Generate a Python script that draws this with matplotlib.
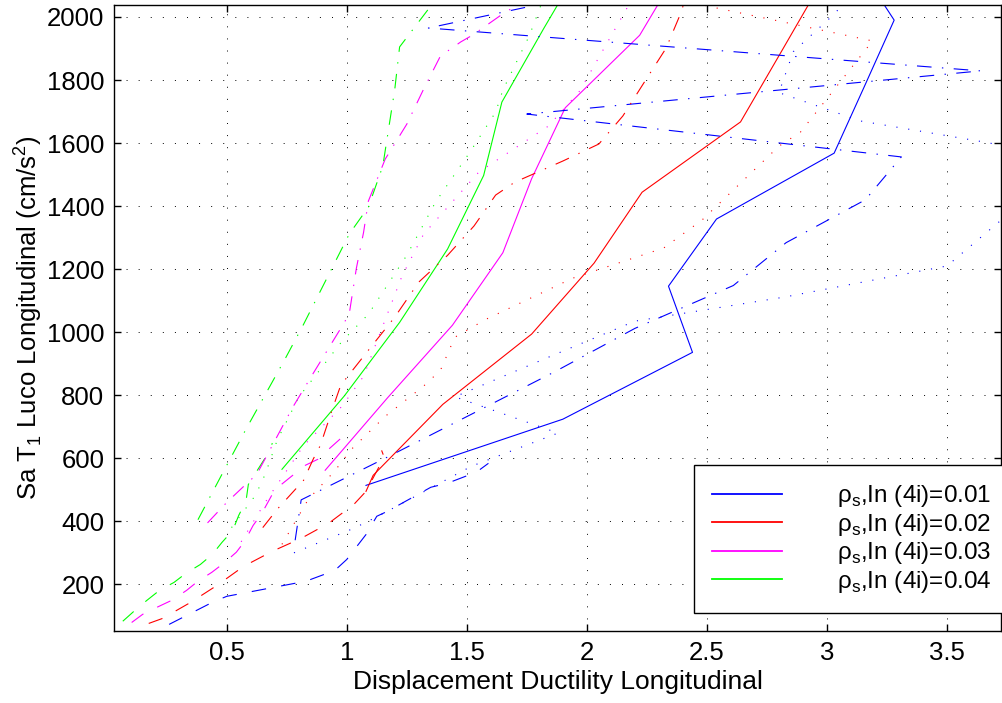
import numpy as np
import matplotlib
matplotlib.use("Agg")
import matplotlib.pyplot as plt

plt.rcParams['font.family'] = ['Liberation Sans', 'DejaVu Sans']
plt.rcParams['mathtext.fontset'] = 'custom'
plt.rcParams['mathtext.rm'] = 'Liberation Sans'
plt.rcParams['lines.scale_dashes'] = False

# ---- data (ductility, Sa) ----
# blue  rho=0.01
blue_solid_x = [1.08, 1.90, 2.44, 2.34, 2.54, 3.03, 3.155, 3.28, 3.10]
blue_solid_y = [514, 724, 936, 1146, 1359, 1568, 1778, 1990, 2200]
blue_dash_x = [0.26, 0.44, 0.50, 0.83, 0.95, 1.00, 1.08, 1.125, 1.17, 1.35, 1.42, 1.54, 1.59]
blue_dash_y = [73, 143, 162, 210, 244, 279, 358, 416, 432, 508, 521, 556, 584]
blue_dot_x = [0.78, 1.03, 1.13, 1.52, 1.88, 1.45, 1.86, 2.20, 2.82, 3.50, 3.72, 4.00, 3.68, 3.14, 2.80, 2.86, 3.04, 3.10]
blue_dot_y = [300, 378, 416, 575, 680, 795, 927, 1035, 1111, 1210, 1352, 1520, 1600, 1670, 1760, 1890, 2016, 2100]
blue_dd_x = [0.785, 0.81, 1.17, 1.52, 1.87, 2.20, 2.61, 2.83, 3.16, 3.31, 1.75, 3.64, 1.34, 2.18]
blue_dd_y = [340, 468, 604, 740, 876, 1012, 1148, 1284, 1420, 1556, 1692, 1829, 1965, 2101]

# red  rho=0.02
red_solid_x = [1.08, 1.11, 1.40, 1.77, 2.03, 2.23, 2.64, 2.81, 2.98]
red_solid_y = [495, 546, 771, 994, 1219, 1444, 1667, 1890, 2114]
red_dash_x = [0.175, 0.233, 0.35, 0.46, 0.57, 0.69, 0.81, 0.925, 1.03, 1.08, 1.14, 1.16, 1.145]
red_dash_y = [76, 92, 143, 197, 257, 305, 346, 394, 454, 495, 581, 595, 625]
red_dot_x = [0.73, 0.84, 0.95, 1.02, 1.16, 1.32, 1.39, 1.45, 1.58, 1.94, 2.32, 2.48, 2.80, 2.89, 3.19, 2.80, 2.50, 2.30]
red_dot_y = [327, 470, 560, 629, 733, 829, 879, 984, 1041, 1171, 1267, 1356, 1590, 1635, 1924, 1987, 2035, 2080]
red_dd_x = [0.65, 0.71, 0.82, 0.86, 0.89, 0.94, 0.975, 1.11, 1.20, 1.30, 1.42, 1.53, 1.62, 1.70, 1.90, 2.05, 2.15, 2.24, 2.33, 2.39, 2.42]
red_dd_y = [380, 438, 530, 597, 641, 756, 832, 962, 1048, 1159, 1244, 1337, 1435, 1476, 1543, 1597, 1686, 1794, 1901, 2010, 2080]

# magenta  rho=0.03
mag_solid_x = [0.91, 1.17, 1.44, 1.65, 1.77, 1.91, 2.22, 2.40]
mag_solid_y = [562, 792, 1022, 1252, 1487, 1712, 1942, 2172]
mag_dash_x = [0.104, 0.15, 0.217, 0.27, 0.333, 0.38, 0.4375, 0.4875, 0.54, 0.575, 0.61, 0.646, 0.70, 0.775, 0.82, 0.88, 0.925, 1.00]
mag_dash_y = [79, 105, 130, 149, 181, 210, 238, 267, 302, 337, 387, 425, 500, 546, 575, 597, 629, 680]
mag_dot_x = [0.56, 0.66, 0.82, 0.98, 1.07, 1.14, 1.23, 1.32, 1.55, 1.84, 1.97, 2.17, 2.20]
mag_dot_y = [335, 460, 640, 765, 860, 1000, 1178, 1311, 1508, 1654, 1765, 2032, 2090]
mag_dd_x = [0.42, 0.50, 0.575, 0.625, 0.69, 0.775, 0.855, 0.97, 1.01, 1.04, 1.07, 1.09, 1.16, 1.25, 1.32, 1.39, 1.475, 1.525, 1.65, 1.80]
mag_dd_y = [395, 460, 514, 549, 641, 762, 863, 1006, 1057, 1203, 1317, 1416, 1549, 1660, 1771, 1876, 1921, 1943, 2010, 2080]

# green  rho=0.04
grn_solid_x = [0.73, 0.99, 1.22, 1.42, 1.57, 1.646, 1.82, 2.00]
grn_solid_y = [565, 798, 1031, 1264, 1497, 1730, 1963, 2196]
grn_dash_x = [0.067, 0.117, 0.167, 0.22, 0.28, 0.33, 0.39, 0.44, 0.48, 0.525, 0.55, 0.58, 0.59, 0.625, 0.67, 0.69]
grn_dash_y = [83, 117, 149, 181, 206, 235, 263, 295, 333, 371, 419, 463, 517, 559, 613, 648]
grn_dot_x = [0.52, 0.62, 0.66, 0.71, 0.80, 0.98, 1.09, 1.25, 1.37, 1.51, 1.62, 1.65, 1.76, 1.82]
grn_dot_y = [380, 483, 549, 657, 794, 971, 1057, 1244, 1413, 1568, 1698, 1768, 1940, 2060]
grn_dd_x = [0.38, 0.48, 0.58, 0.74, 0.82, 1.01, 1.09, 1.15, 1.20, 1.22, 1.35, 1.45]
grn_dd_y = [405, 549, 692, 911, 1025, 1311, 1397, 1527, 1771, 1905, 2035, 2150]

labels = [u"\u03c1$_\\mathregular{s}$,In (4i)=0.01", u"\u03c1$_\\mathregular{s}$,In (4i)=0.02",
          u"\u03c1$_\\mathregular{s}$,In (4i)=0.03", u"\u03c1$_\\mathregular{s}$,In (4i)=0.04"]
x_ticks = [0.5, 1, 1.5, 2, 2.5, 3, 3.5]
y_ticks = [200, 400, 600, 800, 1000, 1200, 1400, 1600, 1800, 2000]

colors = ['#0000ff', '#ff0000', '#ff00ff', '#00ff00']
solids = [(blue_solid_x, blue_solid_y), (red_solid_x, red_solid_y), (mag_solid_x, mag_solid_y), (grn_solid_x, grn_solid_y)]
dashed = [(blue_dash_x, blue_dash_y), (red_dash_x, red_dash_y), (mag_dash_x, mag_dash_y), (grn_dash_x, grn_dash_y)]
dotted = [(blue_dot_x, blue_dot_y), (red_dot_x, red_dot_y), (mag_dot_x, mag_dot_y), (grn_dot_x, grn_dot_y)]
dashdot = [(blue_dd_x, blue_dd_y), (red_dd_x, red_dd_y), (mag_dd_x, mag_dd_y), (grn_dd_x, grn_dd_y)]

fig = plt.figure(figsize=(10.02, 7.03), dpi=100)
ax = fig.add_axes([114 / 1002, 1 - 631 / 703, (1001 - 114) / 1002, (631 - 5) / 703])

lw = 0.8
handles = []
for c, lab, (sx, sy) in zip(colors, labels, solids):
    h, = ax.plot(sx, sy, color=c, lw=lw, label=lab)
    handles.append(h)
for c, (dx, dy) in zip(colors, dashed):
    ax.plot(dx, dy, color=c, lw=lw, linestyle=(0, (10.5, 11)))
for c, (dx, dy) in zip(colors, dotted):
    ax.plot(dx, dy, color=c, lw=lw, linestyle=(0, (0.8, 7.8)))
for c, (dx, dy) in zip(colors, dashdot):
    ax.plot(dx, dy, color=c, lw=lw, linestyle=(0, (10.5, 7.5, 1.0, 7.5)))

ax.set_xlim(0.0304, 3.725)
ax.set_ylim(52, 2038)
ax.set_xticks(x_ticks)
ax.set_xticklabels(["0.5", "1", "1.5", "2", "2.5", "3", "3.5"])
ax.set_yticks(y_ticks)
ax.grid(True, color='k', lw=0.7, linestyle=(0, (0.7, 8)))
ax.tick_params(direction='in', length=5, width=1.0, top=True, right=True,
               labelsize=18.5, pad=7)
for s in ax.spines.values():
    s.set_linewidth(1.0)

ax.set_xlabel("Displacement Ductility Longitudinal", fontsize=19, labelpad=4)
ax.set_ylabel("Sa T$_\\mathregular{1}$ Luco Longitudinal (cm/s$^\\mathregular{2}$)", fontsize=18.5, labelpad=2)

leg = ax.legend(handles=handles, loc='upper left', bbox_to_anchor=(694 / 1002, 1 - 465 / 703),
                bbox_transform=fig.transFigure, fontsize=17.5, frameon=True, fancybox=False,
                handlelength=2.85, handletextpad=2.3, labelspacing=0.1, borderpad=0.75,
                borderaxespad=0)
leg.get_frame().set_edgecolor('k')
leg.get_frame().set_linewidth(1.0)
leg.get_frame().set_alpha(1)
for ln in leg.get_lines():
    ln.set_linewidth(1.3)

fig.savefig("out.png", dpi=100)
